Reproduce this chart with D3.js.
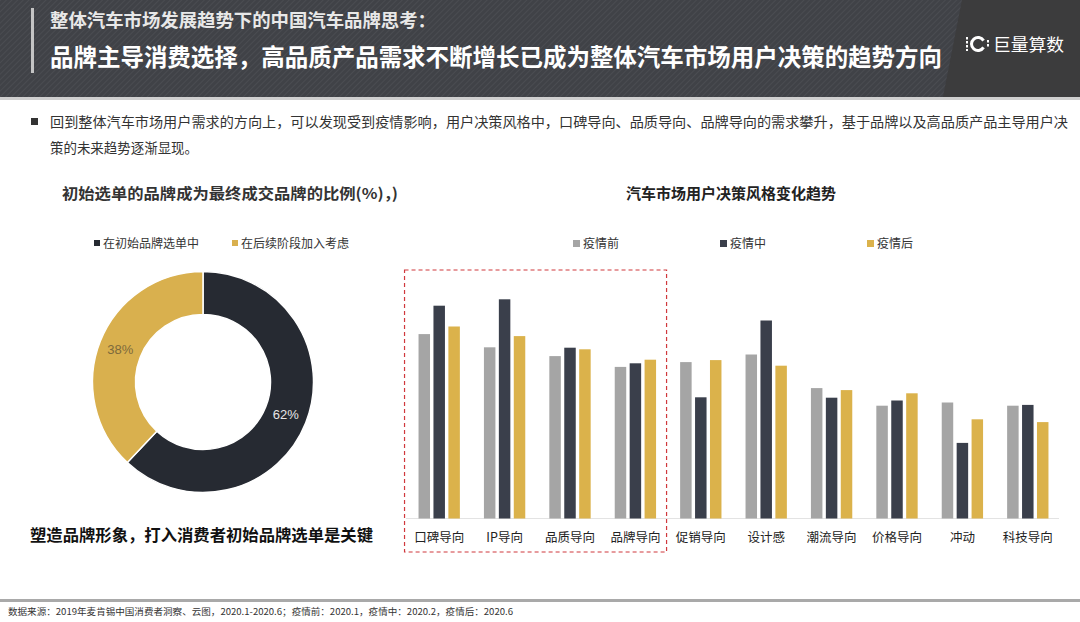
<!DOCTYPE html>
<html>
<head>
<meta charset="utf-8">
<script src="https://cdn.jsdelivr.net/npm/d3@7.9.0/dist/d3.min.js"></script>
<style>
  html, body { margin: 0; padding: 0; background: #fff; }
  svg { display: block; font-family: "Noto Sans CJK SC", "Noto Sans", sans-serif; }
</style>
</head>
<body>
<div id="chart"></div>
<script>
// --- donut data
const pieLabels = ['在初始品牌选单中', '在后续阶段加入考虑'];
const pieValues = [62, 38];

// --- grouped bars (relative index)
const barCategories = ['口碑导向', 'IP导向', '品质导向', '品牌导向', '促销导向', '设计感', '潮流导向', '价格导向', '冲动', '科技导向'];
const barSeries = ['疫情前', '疫情中', '疫情后'];
const beforeValues = [46.1, 42.8, 40.6, 37.9, 39.1, 41.0, 32.6, 28.2, 29.0, 28.2];
const duringValues = [53.2, 54.8, 42.7, 38.8, 30.3, 49.5, 30.2, 29.5, 18.9, 28.4];
const afterValues  = [48.0, 45.6, 42.3, 39.7, 39.6, 38.2, 32.1, 31.3, 24.8, 24.1];
const highlighted = ['口碑导向', 'IP导向', '品质导向', '品牌导向'];

const width = 1080, height = 622;
const svg = d3.select('#chart').append('svg')
  .attr('width', width).attr('height', height)
  .attr('viewBox', `0 0 ${width} ${height}`);

// ---------- header
const defs = svg.append('defs');
const pat = defs.append('pattern')
  .attr('id', 'stripes').attr('width', 4).attr('height', 4)
  .attr('patternUnits', 'userSpaceOnUse')
  .attr('patternTransform', 'rotate(45)');
pat.append('rect').attr('width', 4).attr('height', 4).attr('fill', '#404247');
pat.append('rect').attr('width', 1).attr('height', 4).attr('fill', '#4a4c51');

svg.append('rect').attr('x', 0).attr('y', 0).attr('width', width).attr('height', 97)
  .attr('fill', 'url(#stripes)');
svg.append('path').attr('d', 'M962,0 L1080,0 L1080,97 L943,97 Z').attr('fill', '#3c3c3d');
svg.append('rect').attr('x', 0).attr('y', 97).attr('width', width).attr('height', 3).attr('fill', '#cfcfcf');
svg.append('rect').attr('x', 31).attr('y', 8).attr('width', 3).attr('height', 65).attr('fill', '#c4c4c4');

svg.append('text').attr('x', 50).attr('y', 27)
  .attr('fill', '#e8e8e8').attr('font-size', 18).attr('font-weight', 700)
  .attr('textLength', 386).attr('lengthAdjust', 'spacingAndGlyphs')
  .text('整体汽车市场发展趋势下的中国汽车品牌思考：');
svg.append('text').attr('x', 50).attr('y', 66)
  .attr('fill', '#ffffff').attr('font-size', 24).attr('font-weight', 700)
  .attr('textLength', 892).attr('lengthAdjust', 'spacingAndGlyphs')
  .text('品牌主导消费选择，高品质产品需求不断增长已成为整体汽车市场用户决策的趋势方向');

// logo
const logo = svg.append('g').attr('transform', 'translate(978,44)');
logo.append('path')
  .attr('d', d3.arc()({ innerRadius: 5, outerRadius: 8, startAngle: 0.55, endAngle: 2 * Math.PI - 0.55 }).toString())
  .attr('transform', 'rotate(90)')
  .attr('fill', '#fff');
logo.append('line').attr('x1', -11).attr('x2', -11).attr('y1', -7).attr('y2', 7)
  .attr('stroke', '#fff').attr('stroke-width', 2).attr('stroke-dasharray', '2.5,1.5');
logo.append('line').attr('x1', 10).attr('x2', 10).attr('y1', -4).attr('y2', 4)
  .attr('stroke', '#fff').attr('stroke-width', 2).attr('stroke-dasharray', '2.5,1.5');
svg.append('text').attr('x', 993).attr('y', 51)
  .attr('fill', '#fff').attr('font-size', 17)
  .attr('textLength', 71).attr('lengthAdjust', 'spacingAndGlyphs')
  .text('巨量算数');

// ---------- intro paragraph
svg.append('rect').attr('x', 31).attr('y', 118).attr('width', 7).attr('height', 7).attr('fill', '#333');
svg.append('text').attr('x', 50).attr('y', 127).attr('fill', '#333').attr('font-size', 14)
  .attr('textLength', 1018).attr('lengthAdjust', 'spacingAndGlyphs')
  .text('回到整体汽车市场用户需求的方向上，可以发现受到疫情影响，用户决策风格中，口碑导向、品质导向、品牌导向的需求攀升，基于品牌以及高品质产品主导用户决');
svg.append('text').attr('x', 50).attr('y', 153).attr('fill', '#333').attr('font-size', 14)
  .attr('textLength', 148).attr('lengthAdjust', 'spacingAndGlyphs')
  .text('策的未来趋势逐渐显现。');

// ---------- donut
svg.append('text').attr('x', 62).attr('y', 199).attr('fill', '#333')
  .attr('font-size', 15).attr('font-weight', 700)
  .attr('textLength', 336).attr('lengthAdjust', 'spacingAndGlyphs')
  .text('初始选单的品牌成为最终成交品牌的比例(%)，)');

const pieColors = d3.scaleOrdinal().domain(pieLabels).range(['#262a32', '#d9b04e']);
const pieLabelColors = ['#e6e6e6', '#7d6a3c'];

const pieLegend = svg.append('g');
const pieLegendX = [94, 232];
pieLabels.forEach((name, i) => {
  pieLegend.append('rect').attr('x', pieLegendX[i]).attr('y', 240).attr('width', 6).attr('height', 6)
    .attr('fill', pieColors(name));
  pieLegend.append('text').attr('x', pieLegendX[i] + 9).attr('y', 248)
    .attr('fill', '#333').attr('font-size', 12).text(name);
});

const pieData = d3.pie().sort(null)(pieValues);
const arc = d3.arc().innerRadius(67.5).outerRadius(110.5);
const donut = svg.append('g').attr('transform', 'translate(203,382)');
donut.selectAll('path').data(pieData).join('path')
  .attr('d', arc)
  .attr('fill', (d, i) => pieColors(pieLabels[i]))
  .attr('stroke', '#fff').attr('stroke-width', 1.5);
donut.selectAll('text').data(pieData).join('text')
  .attr('transform', d => `translate(${arc.centroid(d)})`)
  .attr('text-anchor', 'middle').attr('dy', '0.35em')
  .attr('font-size', 13).attr('fill', (d, i) => pieLabelColors[i])
  .attr('font-family', 'Liberation Sans, Arial, sans-serif')
  .text(d => d.data + '%');

svg.append('text').attr('x', 30).attr('y', 541).attr('fill', '#111')
  .attr('font-size', 16).attr('font-weight', 700)
  .attr('textLength', 343).attr('lengthAdjust', 'spacingAndGlyphs')
  .text('塑造品牌形象，打入消费者初始品牌选单是关键');

// ---------- grouped bar chart
svg.append('text').attr('x', 731).attr('y', 199).attr('text-anchor', 'middle')
  .attr('fill', '#222').attr('font-size', 15).attr('font-weight', 700)
  .text('汽车市场用户决策风格变化趋势');

const barColors = d3.scaleOrdinal().domain(barSeries).range(['#a5a5a5', '#3a3f4b', '#dbb24b']);
const barLegendX = [573, 720, 867];
barSeries.forEach((name, i) => {
  svg.append('rect').attr('x', barLegendX[i]).attr('y', 240).attr('width', 7).attr('height', 7)
    .attr('fill', barColors(name));
  svg.append('text').attr('x', barLegendX[i] + 10).attr('y', 248)
    .attr('fill', '#333').attr('font-size', 12).text(name);
});

const rows = barCategories.map((c, i) => ({
  cat: c,
  vals: [beforeValues[i], duringValues[i], afterValues[i]]
}));

const x0 = d3.scaleBand().domain(barCategories).range([406.5, 1060.5])
  .paddingInner(0.368).paddingOuter(0.184);
const x1 = d3.scaleBand().domain(barSeries).range([0, x0.bandwidth()])
  .paddingInner(0.23).paddingOuter(0);
const y = d3.scaleLinear().domain([0, 55]).range([518.5, 298.5]);

// baseline
svg.append('line').attr('x1', 406).attr('x2', 1059).attr('y1', 518.5).attr('y2', 518.5)
  .attr('stroke', '#e3e3e3').attr('stroke-width', 1.2);

const groups = svg.append('g').selectAll('g').data(rows).join('g')
  .attr('transform', d => `translate(${x0(d.cat)},0)`);
groups.selectAll('rect')
  .data(d => d.vals.map((v, j) => ({ key: barSeries[j], v })))
  .join('rect')
  .attr('x', d => x1(d.key))
  .attr('y', d => y(d.v))
  .attr('width', x1.bandwidth())
  .attr('height', d => y(0) - y(d.v))
  .attr('fill', d => barColors(d.key));

// category axis (no line, no ticks)
const xAxis = svg.append('g').attr('transform', 'translate(0,518.5)')
  .call(d3.axisBottom(x0).tickSize(0).tickPadding(15));
xAxis.select('.domain').remove();
xAxis.selectAll('text')
  .attr('font-size', 12.5).attr('fill', '#222')
  .attr('font-family', '"Noto Sans CJK SC", sans-serif');

// dashed highlight box around first four categories
const hx0 = x0(highlighted[0]) - 14;
const hx1 = x0(highlighted[highlighted.length - 1]) + x0.bandwidth() + 10.5;
svg.append('rect').attr('x', hx0).attr('y', 270).attr('width', hx1 - hx0).attr('height', 282)
  .attr('fill', 'none').attr('stroke', '#d0383c').attr('stroke-width', 1.2)
  .attr('stroke-dasharray', '4,3');

// ---------- footer
svg.append('rect').attr('x', 0).attr('y', 599).attr('width', width).attr('height', 3).attr('fill', '#a9a9a9');
svg.append('text').attr('x', 8).attr('y', 615).attr('fill', '#333').attr('font-size', 9)
  .attr('textLength', 505).attr('lengthAdjust', 'spacingAndGlyphs')
  .text('数据来源：2019年麦肯锡中国消费者洞察、云图，2020.1-2020.6；疫情前：2020.1，疫情中：2020.2，疫情后：2020.6');
</script>
</body>
</html>
